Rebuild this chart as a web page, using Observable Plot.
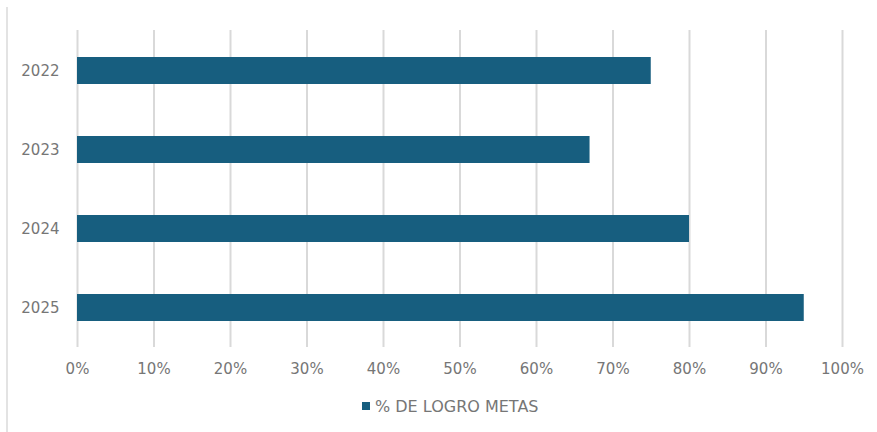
<!DOCTYPE html>
<html>
<head>
<meta charset="utf-8">
<script src="https://cdn.jsdelivr.net/npm/d3@7"></script>
<script src="https://cdn.jsdelivr.net/npm/@observablehq/plot@0.6"></script>
<style>
  html, body { margin: 0; padding: 0; background: #fff; }
  #wrap { position: relative; width: 877px; height: 432px; overflow: hidden; font-family: "DejaVu Sans", sans-serif; }
  #frame { position: absolute; left: 6px; top: 7px; width: 0; height: 425px; border-left: 2px solid #e3e3e3; }
  #chart svg { display: block; }
  #legend { position: absolute; left: 362px; top: 396px; height: 20px; display: flex; align-items: center; color: #767676; font-size: 16px; white-space: nowrap; }
  #legend .sw { display: inline-block; width: 8px; height: 8px; background: #175e7f; margin-right: 5px; }
</style>
</head>
<body>
<div id="wrap">
  <div id="frame"></div>
  <div id="chart"></div>
  <div id="legend"><span class="sw"></span><span id="legtxt"></span></div>
</div>
<script>
const years = ["2022", "2023", "2024", "2025"];
const logro = [0.75, 0.67, 0.80, 0.95];
const xTicks = [0, 0.1, 0.2, 0.3, 0.4, 0.5, 0.6, 0.7, 0.8, 0.9, 1.0];
const seriesName = "% DE LOGRO METAS";

document.getElementById("legtxt").textContent = seriesName;
const data = years.map((y, i) => ({year: y, value: logro[i]}));
const fmt = d => Math.round(d * 100) + "%";

const chart = Plot.plot({
  width: 877,
  height: 390,
  marginTop: 30,
  marginBottom: 43,
  marginLeft: 77,
  marginRight: 35,
  style: { fontFamily: "DejaVu Sans, sans-serif", fontSize: "15px", color: "#767676", background: "#fff" },
  x: { domain: [0, 1], ticks: xTicks, tickFormat: fmt, tickSize: 0, tickPadding: 16, label: null },
  y: { domain: years, paddingInner: 0.66, paddingOuter: 0.33, tickSize: 0, tickPadding: 18, label: null },
  marks: [
    Plot.ruleX(xTicks, { stroke: "#d9d9d9", strokeWidth: 2, strokeOpacity: 1 }),
    Plot.barX(data, { x: "value", y: "year", fill: "#175e7f" }),
    Plot.axisX({ ticks: xTicks, tickFormat: fmt, tickSize: 0, tickPadding: 16, label: null, fontSize: 15 }),
    Plot.axisY({ tickSize: 0, tickPadding: 18, label: null, fontSize: 15 })
  ]
});
document.getElementById("chart").appendChild(chart);
</script>
</body>
</html>
